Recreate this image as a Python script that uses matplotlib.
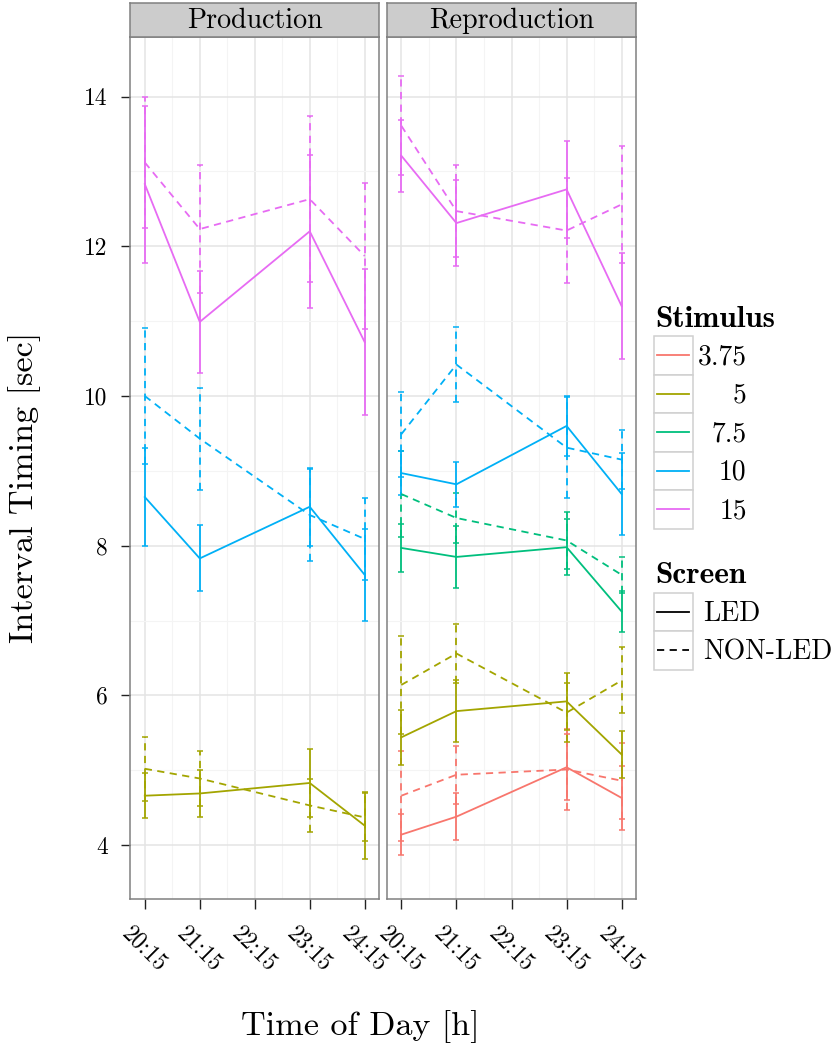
import matplotlib
matplotlib.use("Agg")
import matplotlib.pyplot as plt
from matplotlib.patches import Rectangle
from matplotlib.lines import Line2D
import numpy as np

plt.rcParams['font.family'] = ['cmr10', 'DejaVu Serif']
plt.rcParams['axes.unicode_minus'] = False
plt.rcParams['axes.formatter.use_mathtext'] = True

# ---------------- data ----------------
times = [20.25, 21.25, 23.25, 24.25]
tick_pos = [20.25, 21.25, 22.25, 23.25, 24.25]
tick_labels = ["20:15", "21:15", "22:15", "23:15", "24:15"]
panels = ["Production", "Reproduction"]
stimuli = ["3.75", "5", "7.5", "10", "15"]
screens = ["LED", "NON-LED"]
colors = ["#F8766D", "#A3A500", "#00BF7D", "#00B0F6", "#E76BF3"]

# Production: mean / half-width of error bar
prod_15_led = [12.83, 10.99, 12.20, 10.72]
prod_15_led_err = [1.05, 0.68, 1.02, 0.98]
prod_15_non = [13.12, 12.23, 12.63, 11.87]
prod_15_non_err = [0.88, 0.86, 1.11, 0.97]
prod_10_led = [8.65, 7.83, 8.52, 7.61]
prod_10_led_err = [0.65, 0.44, 0.52, 0.61]
prod_10_non = [10.00, 9.43, 8.41, 8.09]
prod_10_non_err = [0.91, 0.68, 0.62, 0.55]
prod_5_led = [4.66, 4.69, 4.83, 4.26]
prod_5_led_err = [0.30, 0.32, 0.45, 0.45]
prod_5_non = [5.02, 4.89, 4.53, 4.37]
prod_5_non_err = [0.43, 0.37, 0.35, 0.32]

# Reproduction
rep_15_led = [13.21, 12.31, 12.76, 11.20]
rep_15_led_err = [0.48, 0.58, 0.65, 0.71]
rep_15_non = [13.61, 12.47, 12.21, 12.56]
rep_15_non_err = [0.66, 0.61, 0.70, 0.78]
rep_10_led = [8.97, 8.82, 9.60, 8.69]
rep_10_led_err = [0.29, 0.30, 0.40, 0.55]
rep_10_non = [9.49, 10.42, 9.31, 9.15]
rep_10_non_err = [0.57, 0.50, 0.67, 0.39]
rep_75_led = [7.97, 7.85, 7.98, 7.12]
rep_75_led_err = [0.32, 0.41, 0.37, 0.27]
rep_75_non = [8.69, 8.37, 8.07, 7.61]
rep_75_non_err = [0.57, 0.34, 0.38, 0.24]
rep_5_led = [5.44, 5.79, 5.92, 5.21]
rep_5_led_err = [0.37, 0.41, 0.38, 0.32]
rep_5_non = [6.14, 6.56, 5.77, 6.20]
rep_5_non_err = [0.65, 0.39, 0.39, 0.44]
rep_375_led = [4.14, 4.38, 5.04, 4.63]
rep_375_led_err = [0.27, 0.31, 0.44, 0.43]
rep_375_non = [4.66, 4.94, 5.01, 4.86]
rep_375_non_err = [0.60, 0.39, 0.54, 0.51]

series = {
    "Production": [
        ("5", "LED", prod_5_led, prod_5_led_err),
        ("5", "NON-LED", prod_5_non, prod_5_non_err),
        ("10", "LED", prod_10_led, prod_10_led_err),
        ("10", "NON-LED", prod_10_non, prod_10_non_err),
        ("15", "LED", prod_15_led, prod_15_led_err),
        ("15", "NON-LED", prod_15_non, prod_15_non_err),
    ],
    "Reproduction": [
        ("3.75", "LED", rep_375_led, rep_375_led_err),
        ("3.75", "NON-LED", rep_375_non, rep_375_non_err),
        ("5", "LED", rep_5_led, rep_5_led_err),
        ("5", "NON-LED", rep_5_non, rep_5_non_err),
        ("7.5", "LED", rep_75_led, rep_75_led_err),
        ("7.5", "NON-LED", rep_75_non, rep_75_non_err),
        ("10", "LED", rep_10_led, rep_10_led_err),
        ("10", "NON-LED", rep_10_non, rep_10_non_err),
        ("15", "LED", rep_15_led, rep_15_led_err),
        ("15", "NON-LED", rep_15_non, rep_15_non_err),
    ],
}
yticks = [4, 6, 8, 10, 12, 14]

# ---------------- layout ----------------
W, H = 837, 1047
fig = plt.figure(figsize=(W / 100, H / 100), dpi=100)

def frac(l, t, r, b):
    return [l / W, 1 - b / H, (r - l) / W, (b - t) / H]

panel_px = [(130.5, 379.0), (387.0, 636.0)]
top_px, bot_px = 36.7, 899.0
strip_top = 3.3
border_col = "#808080"
dash = (0, (4, 3))
color_of = dict(zip(stimuli, colors))

for i, name in enumerate(panels):
    l, r = panel_px[i]
    ax = fig.add_axes(frac(l, top_px, r, bot_px))
    ax.set_xlim(19.99, 24.51)
    ax.set_ylim(3.28, 14.80)
    ax.set_xticks(tick_pos)
    ax.set_xticks([20.75, 21.75, 22.75, 23.75], minor=True)
    ax.set_yticks(yticks)
    ax.set_yticks([5, 7, 9, 11, 13], minor=True)
    ax.grid(True, which="major", color="#e4e4e4", lw=1.1)
    ax.grid(True, which="minor", color="#f4f4f4", lw=0.8)
    ax.set_axisbelow(True)
    ax.tick_params(which="minor", length=0)
    ax.tick_params(axis="x", which="major", length=7.2, width=1.0, color="#222222",
                   pad=10, labelsize=16.8)
    ax.set_xticklabels(tick_labels, rotation=-45, ha="center", va="top")
    if i == 0:
        ax.tick_params(axis="y", which="major", length=6.5, width=1.0, color="#222222",
                       pad=10, labelsize=16.8)
        ax.set_yticklabels([str(v) for v in yticks])
    else:
        ax.tick_params(axis="y", which="major", length=0, labelleft=False)
    for s in ax.spines.values():
        s.set_color(border_col)
        s.set_linewidth(1.1)

    for stim, scr, m, e in series[name]:
        c = color_of[stim]
        eb = ax.errorbar(times, m, yerr=e, color=c, lw=1.3, elinewidth=1.3,
                         capsize=2.3, capthick=1.1)
        eb[0].set_linestyle("-" if scr == "LED" else dash)
        if scr != "LED":
            for lc in eb[2]:
                lc.set_linestyle(dash)

    # strip
    sax = fig.add_axes(frac(l, strip_top, r, top_px))
    sax.set_facecolor("#cccccc")
    sax.set_xticks([])
    sax.set_yticks([])
    for s in sax.spines.values():
        s.set_color(border_col)
        s.set_linewidth(1.1)
    sax.text(0.5, 0.26, name, transform=sax.transAxes, ha="center", va="baseline",
             fontsize=20.2)

# axis titles
fig.text(24.5 / W, 1 - 487.5 / H, "Interval Timing [sec]", rotation=90,
         ha="center", va="center", fontsize=24.6)
fig.text(360 / W, 1 - 1035 / H, "Time of Day [h]", ha="center", va="baseline",
         fontsize=24.6)

# legends (pixel-coordinate overlay)
lax = fig.add_axes([0, 0, 1, 1], zorder=5)
lax.set_xlim(0, W)
lax.set_ylim(H, 0)
lax.axis("off")
lax.patch.set_alpha(0)

key_l, key_w, key_h = 654.0, 38.7, 38.5
lax.text(655, 327, "Stimulus", family="cmb10", fontsize=22.5, ha="left", va="baseline")
for k, stim in enumerate(stimuli):
    t = 336 + k * key_h
    lax.add_patch(Rectangle((key_l, t), key_w, key_h, facecolor="white",
                            edgecolor="#d0d0d0", lw=1.1))
    cy = t + key_h / 2
    lax.add_line(Line2D([key_l + 3.5, key_l + key_w - 3.5], [cy, cy],
                        color=color_of[stim], lw=1.3))
    lax.text(746.7, cy + 9, stim, ha="right", va="baseline", fontsize=19.9)

lax.text(655, 583, "Screen", family="cmb10", fontsize=22.5, ha="left", va="baseline")
for k, scr in enumerate(screens):
    t = 592.7 + k * key_h
    lax.add_patch(Rectangle((key_l, t), key_w, key_h, facecolor="white",
                            edgecolor="#d0d0d0", lw=1.1))
    cy = t + key_h / 2
    lax.add_line(Line2D([key_l + 3.5, key_l + key_w - 3.5], [cy, cy],
                        color="black", lw=1.3,
                        linestyle="-" if scr == "LED" else dash))
    lax.text(702.7, cy + 9, scr, ha="left", va="baseline", fontsize=19.9)

fig.savefig("out.png", dpi=100)
